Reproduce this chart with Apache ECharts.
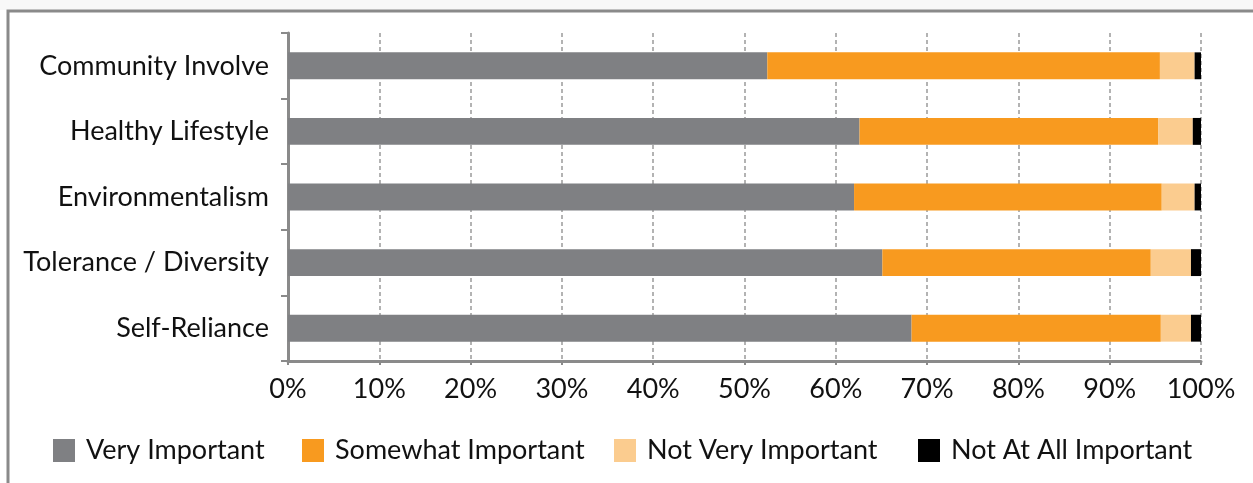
<!DOCTYPE html>
<html>
<head>
<meta charset="utf-8">
<style>
html,body{margin:0;padding:0;background:#fff;}
#chart{width:1253px;height:483px;}
</style>
<script src="https://cdn.jsdelivr.net/npm/echarts@6/dist/echarts.min.js"></script>
</head>
<body>
<div id="chart"></div>
<script>
const categories = ["Community Involve", "Healthy Lifestyle", "Environmentalism", "Tolerance / Diversity", "Self-Reliance"];
const seriesNames = ["Very Important", "Somewhat Important", "Not Very Important", "Not At All Important"];
const veryImportant = [52.5, 62.6, 62.0, 65.1, 68.3];
const somewhatImportant = [43.0, 32.7, 33.7, 29.4, 27.3];
const notVeryImportant = [3.8, 3.8, 3.6, 4.4, 3.3];
const notAtAllImportant = [0.7, 0.9, 0.7, 1.1, 1.1];
const xTicks = [0, 10, 20, 30, 40, 50, 60, 70, 80, 90, 100];

const colors = ["#7f8083", "#f89a1f", "#fbcc8f", "#000000"];
const values = [veryImportant, somewhatImportant, notVeryImportant, notAtAllImportant];
const FONT = "Lato";
const FS = 27;
const legendLefts = [53, 302, 614, 918];

const chart = echarts.init(document.getElementById('chart'), null, {renderer: 'canvas'});
chart.setOption({
  animation: false,
  color: colors,
  textStyle: {fontFamily: FONT},
  graphic: [
    {type: 'rect', shape: {x: 0, y: 0, width: 1253, height: 10}, style: {fill: '#f8f8f8'}, silent: true, z: -10},
    {type: 'polyline', shape: {points: [[8, 600], [8, 11], [1260, 11]]}, style: {stroke: '#8a8a8a', lineWidth: 3, fill: null}, silent: true, z: -5}
  ],
  grid: {left: 288, right: 52, top: 33, bottom: 122, containLabel: false},
  legend: seriesNames.map((n, i) => ({
    data: [n],
    left: legendLefts[i],
    top: 437,
    itemWidth: 22,
    itemHeight: 23,
    itemGap: 12,
    textStyle: {fontFamily: FONT, fontSize: FS, color: '#111', padding: [2, 0, 0, 6]},
    icon: 'rect',
    padding: 0,
    selectedMode: false
  })),
  xAxis: {
    type: 'value',
    min: 0,
    max: 100,
    interval: 10,
    axisLine: {show: true, lineStyle: {color: '#8a8a8a', width: 3}},
    axisTick: {show: true, length: 4, lineStyle: {color: '#8a8a8a', width: 2}},
    splitLine: {show: true, lineStyle: {color: '#9a9a9a', type: [4, 3], width: 1.5}},
    axisLabel: {formatter: v => v + '%', fontFamily: FONT, fontSize: FS, color: '#111', margin: 15}
  },
  yAxis: {
    type: 'category',
    data: categories,
    inverse: true,
    axisLine: {show: true, lineStyle: {color: '#8a8a8a', width: 3}},
    axisTick: {show: true, length: 7, lineStyle: {color: '#8a8a8a', width: 2}},
    axisLabel: {fontFamily: FONT, fontSize: FS, color: '#111', margin: 19, padding: [2, 0, 0, 0]}
  },
  series: seriesNames.map((n, i) => ({
    name: n,
    type: 'bar',
    stack: 'total',
    barWidth: '41%',
    data: values[i],
    itemStyle: {color: colors[i]}
  }))
});
</script>
</body>
</html>
